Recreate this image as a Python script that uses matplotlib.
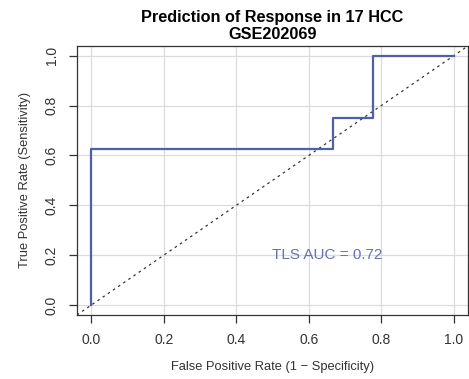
import matplotlib
matplotlib.use('Agg')
import matplotlib.pyplot as plt

# ROC points (8 responders, 9 non-responders)
fpr = [0.0, 0.0, 0.667, 0.667, 0.778, 0.778, 1.0]
tpr = [0.0, 0.625, 0.625, 0.75, 0.75, 1.0, 1.0]
ticks = [0.0, 0.2, 0.4, 0.6, 0.8, 1.0]
auc_label = 'TLS AUC = 0.72'

plt.rcParams['font.family'] = ['Liberation Sans', 'DejaVu Sans']

fig = plt.figure(figsize=(4.69, 3.79), dpi=100)
ax = fig.add_axes([0.164, 0.169, 0.834, 0.710])

ax.set_xlim(-0.04, 1.04)
ax.set_ylim(-0.04, 1.04)
ax.set_xticks(ticks)
ax.set_yticks(ticks)
ax.grid(True, color='#dcdcdc', lw=0.9)
ax.set_axisbelow(True)

ax.plot([-0.04, 1.04], [-0.04, 1.04], ls=(0, (2, 3)), color='#333333', lw=0.9)
ax.plot(fpr, tpr, color='#4f5fa8', lw=1.6)
ax.text(0.65, 0.2, auc_label, color='#6870b0', fontsize=11, ha='center', va='center')

for s in ax.spines.values():
    s.set_color('#333333')
    s.set_linewidth(0.9)
ax.tick_params(length=6, width=0.9, color='#333333', labelsize=10, labelcolor='#333333', pad=7)
for lab in ax.get_yticklabels():
    lab.set_rotation(90)
    lab.set_va('center')

ax.set_xlabel('False Positive Rate (1 \u2212 Specificity)', fontsize=9.3, color='#333333', labelpad=10)
ax.set_ylabel('True Positive Rate (Sensitivity)', fontsize=9.3, color='#333333', labelpad=10)
ax.set_title('Prediction of Response in 17 HCC\nGSE202069', fontsize=11.7, fontweight='bold', linespacing=1.2, pad=5)

fig.savefig('out.png', dpi=100)
